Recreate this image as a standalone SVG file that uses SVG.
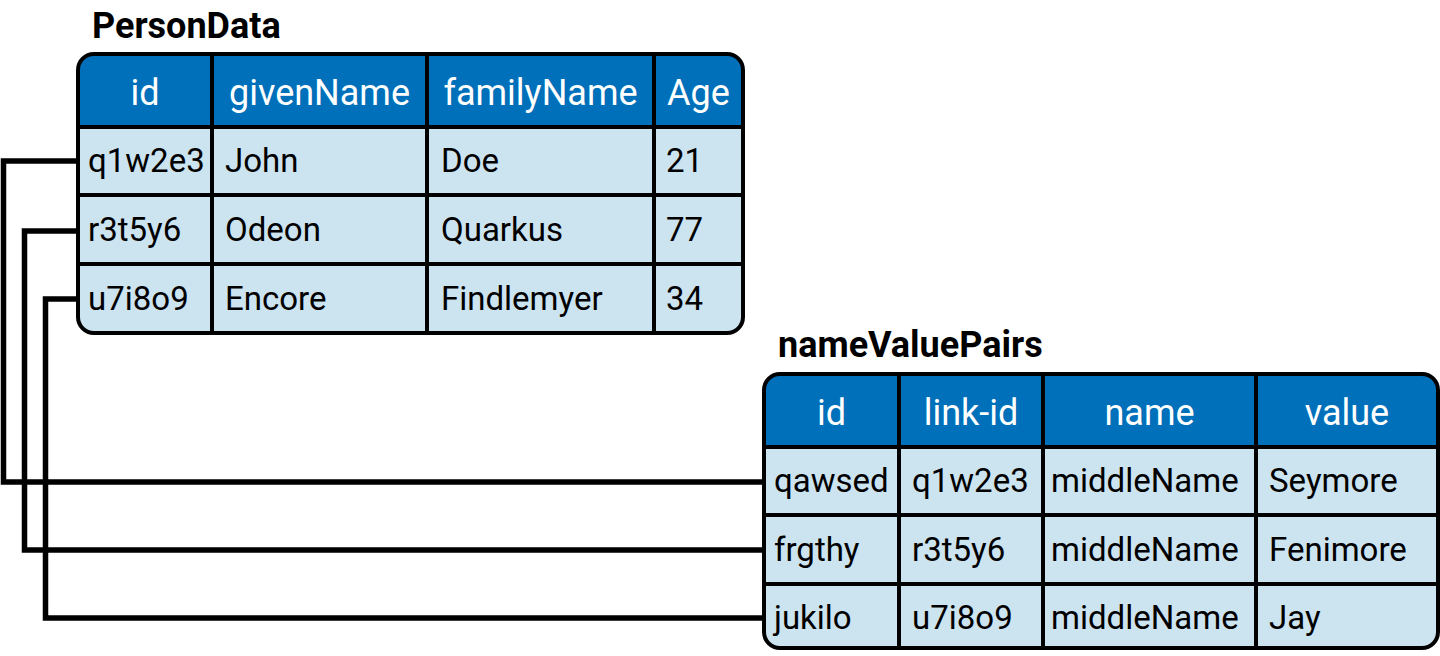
<svg xmlns="http://www.w3.org/2000/svg" width="1440" height="656" viewBox="0 0 1440 656">
<style>
.title{font-family:Roboto,"Liberation Sans",sans-serif;font-weight:bold;font-size:36px;fill:#000}
.hdr{font-family:Roboto,"Liberation Sans",sans-serif;font-size:36px;fill:#fff;text-anchor:middle}
.cell{font-family:Roboto,"Liberation Sans",sans-serif;font-size:33px;fill:#000}
.hfill{fill:#0070BA}
.bfill{fill:#CCE3F0}
.grid{stroke:#000;stroke-width:4;fill:none}
.conn{stroke:#000;stroke-width:5.5;fill:none}
</style>
<defs>
<clipPath id="c1"><rect x="78" y="54" width="665" height="279" rx="16"/></clipPath>
<clipPath id="c2"><rect x="764" y="374" width="674" height="274" rx="16"/></clipPath>
</defs>
<g id="connectors">
<polyline class="conn" points="80,161 3.5,161 3.5,482 766,482"/>
<polyline class="conn" points="80,231 24.5,231 24.5,550 766,550"/>
<polyline class="conn" points="80,299 45.5,299 45.5,618 766,618"/>
</g>
<g id="PersonData">
<text class="title" x="92" y="38">PersonData</text>
<g clip-path="url(#c1)">
<rect class="bfill" x="78" y="54" width="665" height="279"/>
<rect class="hfill" x="78" y="54" width="665" height="73"/>
</g>
<rect class="grid" x="78" y="54" width="665" height="279" rx="16"/>
<path class="grid" d="M78,127H743M78,195H743M78,264H743M212,54V333M427,54V333M654,54V333"/>
<text class="hdr" x="145" y="105">id</text>
<text class="hdr" x="319.5" y="105">givenName</text>
<text class="hdr" x="540.5" y="105">familyName</text>
<text class="hdr" x="698.5" y="105">Age</text>
<text class="cell" x="88" y="172">q1w2e3</text>
<text class="cell" x="225" y="172">John</text>
<text class="cell" x="441" y="172">Doe</text>
<text class="cell" x="666" y="172">21</text>
<text class="cell" x="88" y="241">r3t5y6</text>
<text class="cell" x="225" y="241">Odeon</text>
<text class="cell" x="441" y="241">Quarkus</text>
<text class="cell" x="666" y="241">77</text>
<text class="cell" x="88" y="310">u7i8o9</text>
<text class="cell" x="225" y="310">Encore</text>
<text class="cell" x="441" y="310">Findlemyer</text>
<text class="cell" x="666" y="310">34</text>
</g>
<g id="nameValuePairs">
<text class="title" x="778" y="357">nameValuePairs</text>
<g clip-path="url(#c2)">
<rect class="bfill" x="764" y="374" width="674" height="274"/>
<rect class="hfill" x="764" y="374" width="674" height="73"/>
</g>
<rect class="grid" x="764" y="374" width="674" height="274" rx="16"/>
<path class="grid" d="M764,447H1438M764,515H1438M764,584H1438M899,374V648M1043,374V648M1256,374V648"/>
<text class="hdr" x="831.5" y="425">id</text>
<text class="hdr" x="971" y="425">link-id</text>
<text class="hdr" x="1149.5" y="425">name</text>
<text class="hdr" x="1347" y="425">value</text>
<text class="cell" x="774" y="492">qawsed</text>
<text class="cell" x="912" y="492">q1w2e3</text>
<text class="cell" x="1051" y="492">middleName</text>
<text class="cell" x="1269" y="492">Seymore</text>
<text class="cell" x="774" y="561">frgthy</text>
<text class="cell" x="912" y="561">r3t5y6</text>
<text class="cell" x="1051" y="561">middleName</text>
<text class="cell" x="1269" y="561">Fenimore</text>
<text class="cell" x="774" y="629">jukilo</text>
<text class="cell" x="912" y="629">u7i8o9</text>
<text class="cell" x="1051" y="629">middleName</text>
<text class="cell" x="1269" y="629">Jay</text>
</g>
</svg>
